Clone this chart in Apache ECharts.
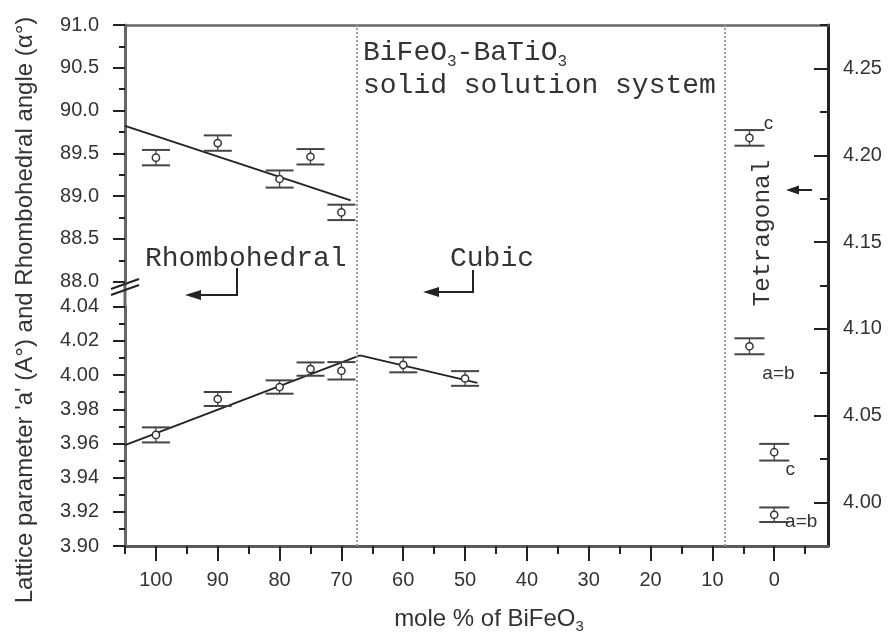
<!DOCTYPE html>
<html>
<head>
<meta charset="utf-8">
<script src="https://cdn.jsdelivr.net/npm/echarts@6/dist/echarts.min.js"></script>
<style>
  html, body { margin: 0; padding: 0; background: #fff; }
  #chart { width: 889px; height: 644px; }
</style>
</head>
<body>
<div id="chart"></div>
<script>
// Composition axis: mole % of BiFeO3, running from 100 down to 0
const xTickValues = [100, 90, 80, 70, 60, 50, 40, 30, 20, 10, 0];
const xMinorTickValues = [105, 95, 85, 75, 65, 55, 45, 35, 25, 15, 5, -5];

// Rhombohedral angle (degrees) with error bars
const angleX = [100, 90, 80, 75, 70];
const angleY = [89.45, 89.62, 89.20, 89.46, 88.81];
const angleErr = [0.09, 0.09, 0.10, 0.09, 0.09];
const angleFitX = [105, 68.5];
const angleFitY = [89.82, 88.95];

// Lattice parameter a (rhombohedral 100-70 %, cubic 60-50 %)
const latticeX = [100, 90, 80, 75, 70, 60, 50];
const latticeY = [3.965, 3.986, 3.993, 4.0035, 4.0025, 4.006, 3.998];
const latticeErr = [0.0044, 0.0041, 0.0039, 0.0039, 0.0051, 0.0044, 0.0043];
const rhomboFitX = [105, 67];
const rhomboFitY = [3.959, 4.0115];
const cubicFitX = [67, 48];
const cubicFitY = [4.0115, 3.9955];

// Tetragonal lattice parameters, read on the right-hand axis
const tetraX = [4, 4, 0, 0];
const tetraY = [4.210, 4.090, 4.029, 3.993];
const tetraErr = [0.0045, 0.0046, 0.0048, 0.0042];
const tetraLabels = ['c', 'a=b', 'c', 'a=b'];

// Axis ticks
const rightTickValues = [4.00, 4.05, 4.10, 4.15, 4.20, 4.25];
const rightMinorTickValues = [4.025, 4.075, 4.125, 4.175, 4.225, 4.275];

// Phase boundaries (dotted verticals)
const phaseBoundaries = [67.5, 8];

// ---- layout / style ----
const PLOT = { left: 125, right: 828, top: 25, bottom: 546 };
const UPPER_BOTTOM = 281.7;   // 88.0 on the angle scale
const LOWER_TOP = 306.7;      // 4.04 on the lattice scale
const SANS = 'Liberation Sans, Arial, sans-serif';
const MONO = 'Liberation Mono, Courier New, monospace';
const INK = '#333';
const AXIS = '#5a5a5a';
const tetraLabelOffsets = [[19, -14], [29, 27], [16, 18], [27, 7]];

const chart = echarts.init(document.getElementById('chart'), null, { renderer: 'canvas' });

function errorBarRenderer(capHalf, labels, offsets) {
  return function (params, api) {
    const x = api.value(0), y = api.value(1), e = api.value(2);
    const p = api.coord([x, y]);
    const hi = api.coord([x, y + e]);
    const lo = api.coord([x, y - e]);
    const stroke = { stroke: '#444', lineWidth: 2 };
    const children = [
      { type: 'line', shape: { x1: p[0], y1: hi[1], x2: p[0], y2: lo[1] }, style: { stroke: '#444', lineWidth: 1.3 } },
      { type: 'line', shape: { x1: p[0] - capHalf, y1: hi[1], x2: p[0] + capHalf, y2: hi[1] }, style: stroke },
      { type: 'line', shape: { x1: p[0] - capHalf, y1: lo[1], x2: p[0] + capHalf, y2: lo[1] }, style: stroke },
      { type: 'circle', shape: { cx: p[0], cy: p[1], r: 3.6 }, style: { fill: '#fff', stroke: '#333', lineWidth: 1.5 } }
    ];
    if (labels) {
      const i = params.dataIndex;
      children.push({
        type: 'text',
        x: p[0] + offsets[i][0],
        y: p[1] + offsets[i][1],
        style: { text: labels[i], fontSize: 19, fontFamily: SANS, fill: INK, align: 'center', verticalAlign: 'middle' }
      });
    }
    return { type: 'group', children: children };
  };
}

const pairs = (xs, ys) => xs.map((x, i) => [x, ys[i]]);
const triples = (xs, ys, es) => xs.map((x, i) => [x, ys[i], es[i]]);

const xBase = { type: 'value', inverse: true, min: -8.7, max: 105, splitLine: { show: false } };
const plotW = PLOT.right - PLOT.left;

const option = {
  animation: false,
  backgroundColor: '#fff',
  grid: [
    { left: PLOT.left, top: PLOT.top, width: plotW, height: PLOT.bottom - PLOT.top },
    { left: PLOT.left, top: PLOT.top, width: plotW, height: UPPER_BOTTOM - PLOT.top },
    { left: PLOT.left, top: LOWER_TOP, width: plotW, height: PLOT.bottom - LOWER_TOP }
  ],
  xAxis: [
    Object.assign({}, xBase, {
      gridIndex: 0, position: 'bottom',
      axisLine: { show: true, onZero: false, lineStyle: { color: AXIS, width: 3 } },
      axisTick: { show: true, customValues: xTickValues, length: 15, lineStyle: { color: '#222', width: 2 } },
      axisLabel: { show: true, customValues: xTickValues, margin: 24, fontSize: 20, fontFamily: SANS, color: INK }
    }),
    Object.assign({}, xBase, {
      gridIndex: 0, position: 'bottom',
      axisLine: { show: false, onZero: false },
      axisTick: { show: true, customValues: xMinorTickValues, length: 8, lineStyle: { color: '#222', width: 2 } },
      axisLabel: { show: false }
    }),
    Object.assign({}, xBase, {
      gridIndex: 0, position: 'top',
      axisLine: { show: true, onZero: false, lineStyle: { color: '#666', width: 2.5 } },
      axisTick: { show: false }, axisLabel: { show: false }
    }),
    Object.assign({}, xBase, { gridIndex: 1, show: false }),
    Object.assign({}, xBase, { gridIndex: 2, show: false })
  ],
  yAxis: [
    {
      type: 'value', gridIndex: 0, position: 'right', min: 3.975, max: 4.275,
      splitLine: { show: false },
      axisLine: { show: true, onZero: false, lineStyle: { color: '#222', width: 3 } },
      axisTick: { show: true, inside: true, customValues: rightTickValues, length: 14, lineStyle: { color: '#222', width: 2 } },
      axisLabel: { show: true, customValues: rightTickValues, margin: 15, fontSize: 20, fontFamily: SANS, color: INK,
        formatter: v => v.toFixed(2) }
    },
    {
      type: 'value', gridIndex: 0, position: 'right', min: 3.975, max: 4.275,
      splitLine: { show: false },
      axisLine: { show: false, onZero: false },
      axisTick: { show: true, inside: true, customValues: rightMinorTickValues, length: 8, lineStyle: { color: '#222', width: 2 } },
      axisLabel: { show: false }
    },
    {
      type: 'value', gridIndex: 1, position: 'left', min: 88, max: 91, interval: 0.5,
      splitLine: { show: false },
      axisLine: { show: true, onZero: false, lineStyle: { color: '#666', width: 3 } },
      axisTick: { show: true, length: 12, lineStyle: { color: '#222', width: 2 } },
      minorTick: { show: true, splitNumber: 2, length: 6, lineStyle: { color: '#222', width: 2 } },
      axisLabel: { margin: 26, fontSize: 20, fontFamily: SANS, color: INK, formatter: v => v.toFixed(1) }
    },
    {
      type: 'value', gridIndex: 2, position: 'left', min: 3.90, max: 4.04, interval: 0.02,
      splitLine: { show: false },
      axisLine: { show: true, onZero: false, lineStyle: { color: '#666', width: 3 } },
      axisTick: { show: true, length: 12, lineStyle: { color: '#222', width: 2 } },
      minorTick: { show: true, splitNumber: 2, length: 6, lineStyle: { color: '#222', width: 2 } },
      axisLabel: { margin: 26, fontSize: 20, fontFamily: SANS, color: INK, formatter: v => v.toFixed(2) }
    }
  ],
  series: [
    {
      type: 'line', xAxisIndex: 0, yAxisIndex: 0, data: [], silent: true,
      markLine: {
        silent: true, symbol: ['none', 'none'],
        label: { show: false },
        lineStyle: { type: 'dotted', color: '#9a9a9a', width: 2 },
        data: phaseBoundaries.map(v => ({ xAxis: v }))
      }
    },
    {
      type: 'line', xAxisIndex: 3, yAxisIndex: 2, data: pairs(angleFitX, angleFitY),
      showSymbol: false, lineStyle: { color: '#222', width: 1.8 }, z: 3
    },
    {
      type: 'line', xAxisIndex: 4, yAxisIndex: 3, data: pairs(rhomboFitX, rhomboFitY),
      showSymbol: false, lineStyle: { color: '#222', width: 1.8 }, z: 3
    },
    {
      type: 'line', xAxisIndex: 4, yAxisIndex: 3, data: pairs(cubicFitX, cubicFitY),
      showSymbol: false, lineStyle: { color: '#222', width: 1.8 }, z: 3
    },
    {
      type: 'custom', xAxisIndex: 3, yAxisIndex: 2, z: 4,
      renderItem: errorBarRenderer(14),
      encode: { x: 0, y: 1 },
      data: triples(angleX, angleY, angleErr)
    },
    {
      type: 'custom', xAxisIndex: 4, yAxisIndex: 3, z: 4,
      renderItem: errorBarRenderer(14),
      encode: { x: 0, y: 1 },
      data: triples(latticeX, latticeY, latticeErr)
    },
    {
      type: 'custom', xAxisIndex: 0, yAxisIndex: 0, z: 4, clip: true,
      renderItem: errorBarRenderer(15, tetraLabels, tetraLabelOffsets),
      encode: { x: 0, y: 1 },
      data: triples(tetraX, tetraY, tetraErr)
    }
  ],
  graphic: [
    // continuation of the left axis across the scale break
    { type: 'line', shape: { x1: PLOT.left, y1: UPPER_BOTTOM, x2: PLOT.left, y2: LOWER_TOP }, style: { stroke: '#666', lineWidth: 3 } },
    { type: 'line', shape: { x1: 111, y1: 289, x2: 139, y2: 279 }, style: { stroke: '#222', lineWidth: 2 } },
    { type: 'line', shape: { x1: 111, y1: 295, x2: 139, y2: 285 }, style: { stroke: '#222', lineWidth: 2 } },

    // axis titles
    {
      type: 'text', x: 25, y: 310, rotation: Math.PI / 2,
      style: { text: "Lattice parameter 'a' (A°) and Rhombohedral angle (α°)", fontSize: 24, fontFamily: SANS,
        fill: INK, align: 'center', verticalAlign: 'middle' }
    },
    {
      type: 'text', x: 489, y: 619,
      style: {
        text: 'mole % of BiFeO{s|3}', fontSize: 24, fontFamily: SANS, lineHeight: 30,
        fill: INK, align: 'center', verticalAlign: 'middle',
        rich: { s: { fontSize: 15, fontFamily: SANS, fill: INK, color: INK, lineHeight: 12, verticalAlign: 'bottom' } }
      }
    },

    // system description
    {
      type: 'text', x: 363, y: 53,
      style: {
        text: 'BiFeO{s|3}-BaTiO{s|3}', fontSize: 28, fontFamily: MONO, lineHeight: 34,
        fill: INK, align: 'left', verticalAlign: 'middle',
        rich: { s: { fontSize: 16, fontFamily: MONO, fill: INK, color: INK, lineHeight: 12, verticalAlign: 'bottom' } }
      }
    },
    {
      type: 'text', x: 363, y: 86,
      style: { text: 'solid solution system', fontSize: 28, fontFamily: MONO, fill: INK, align: 'left', verticalAlign: 'middle' }
    },

    // phase labels with pointers
    {
      type: 'text', x: 145, y: 259,
      style: { text: 'Rhombohedral', fontSize: 28, fontFamily: MONO, fill: INK, align: 'left', verticalAlign: 'middle' }
    },
    { type: 'polyline', shape: { points: [[237, 268], [237, 295], [198, 295]] }, style: { stroke: '#222', lineWidth: 2, fill: null } },
    { type: 'polygon', shape: { points: [[185, 295], [201, 290], [201, 300]] }, style: { fill: '#222' } },

    {
      type: 'text', x: 450, y: 259,
      style: { text: 'Cubic', fontSize: 28, fontFamily: MONO, fill: INK, align: 'left', verticalAlign: 'middle' }
    },
    { type: 'polyline', shape: { points: [[473, 270], [473, 292], [436, 292]] }, style: { stroke: '#222', lineWidth: 2, fill: null } },
    { type: 'polygon', shape: { points: [[423, 292], [439, 287], [439, 297]] }, style: { fill: '#222' } },

    {
      type: 'text', x: 763, y: 233, rotation: Math.PI / 2,
      style: { text: 'Tetragonal', fontSize: 24.5, fontFamily: MONO, fill: INK, align: 'center', verticalAlign: 'middle' }
    },
    { type: 'line', shape: { x1: 796, y1: 190, x2: 812, y2: 190 }, style: { stroke: '#222', lineWidth: 2 } },
    { type: 'polygon', shape: { points: [[786, 190], [799, 185.5], [799, 194.5]] }, style: { fill: '#222' } }
  ]
};

chart.setOption(option);
</script>
</body>
</html>
